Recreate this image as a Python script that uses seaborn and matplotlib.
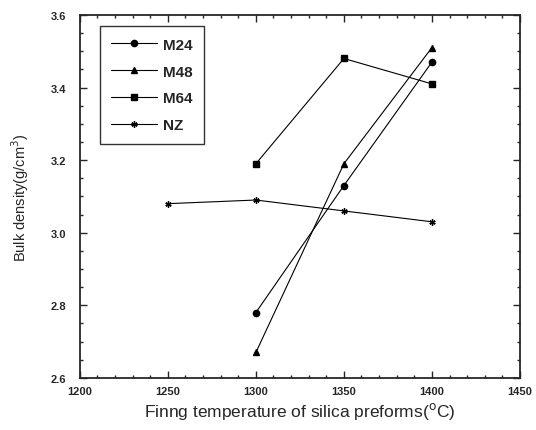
import pandas as pd
import numpy as np
import seaborn as sns
from matplotlib import pyplot as plt

temps_main = [1300, 1350, 1400]
m24 = [2.78, 3.13, 3.47]
m48 = [2.67, 3.19, 3.51]
m64 = [3.19, 3.48, 3.41]
temps_nz = [1250, 1300, 1350, 1400]
nz = [3.08, 3.09, 3.06, 3.03]

series = [
    ("M24", temps_main, m24, "o"),
    ("M48", temps_main, m48, "^"),
    ("M64", temps_main, m64, "s"),
    ("NZ", temps_nz, nz, (6, 2, 0)),
]

sns.set_style("ticks")
plt.rcParams['font.family'] = ['Liberation Sans', 'DejaVu Sans']

fig = plt.figure(figsize=(5.36, 4.31), dpi=100)
ax = fig.add_axes([0.149, 0.121, 0.821, 0.842])

for name, xs, ys, mk in series:
    df = pd.DataFrame({"temp": xs, "density": ys})
    sns.lineplot(data=df, x="temp", y="density", color="black", marker=mk,
                 linewidth=0.8, markersize=4.5, markeredgecolor="black",
                 markeredgewidth=1.0, label=name, ax=ax)

ax.set_xlim(1200, 1450)
ax.set_ylim(2.6, 3.6)
ax.set_xticks(np.arange(1200, 1451, 50))
ax.set_yticks(np.arange(2.6, 3.61, 0.2))
ax.set_yticklabels([f"{v:.1f}" for v in np.arange(2.6, 3.61, 0.2)])
ax.minorticks_on()
ax.tick_params(which="both", direction="in", top=True, right=True, width=1.0)
ax.tick_params(which="major", length=5, labelsize=8)
ax.tick_params(axis="x", which="major", pad=6)
ax.tick_params(axis="y", which="major", pad=10)
ax.tick_params(which="minor", length=2.5)
for lbl in ax.get_xticklabels() + ax.get_yticklabels():
    lbl.set_fontweight("bold")
for s in ax.spines.values():
    s.set_linewidth(1.3)

ax.set_xlabel(r"Finng temperature of silica preforms($^{\rm o}$C)", fontsize=12.5, labelpad=3)
ax.set_ylabel(r"Bulk density(g/cm$^3$)", fontsize=10.5, labelpad=14)

leg = ax.legend(loc="upper left", bbox_to_anchor=(0.035, 0.982),
                prop={"size": 11, "weight": "bold"},
                frameon=True, fancybox=False, edgecolor="black",
                handlelength=3.0, handletextpad=0.4, labelspacing=0.85,
                borderpad=0.75, borderaxespad=0.3)
leg.get_frame().set_linewidth(1.0)

plt.savefig("out.png", dpi=100)
